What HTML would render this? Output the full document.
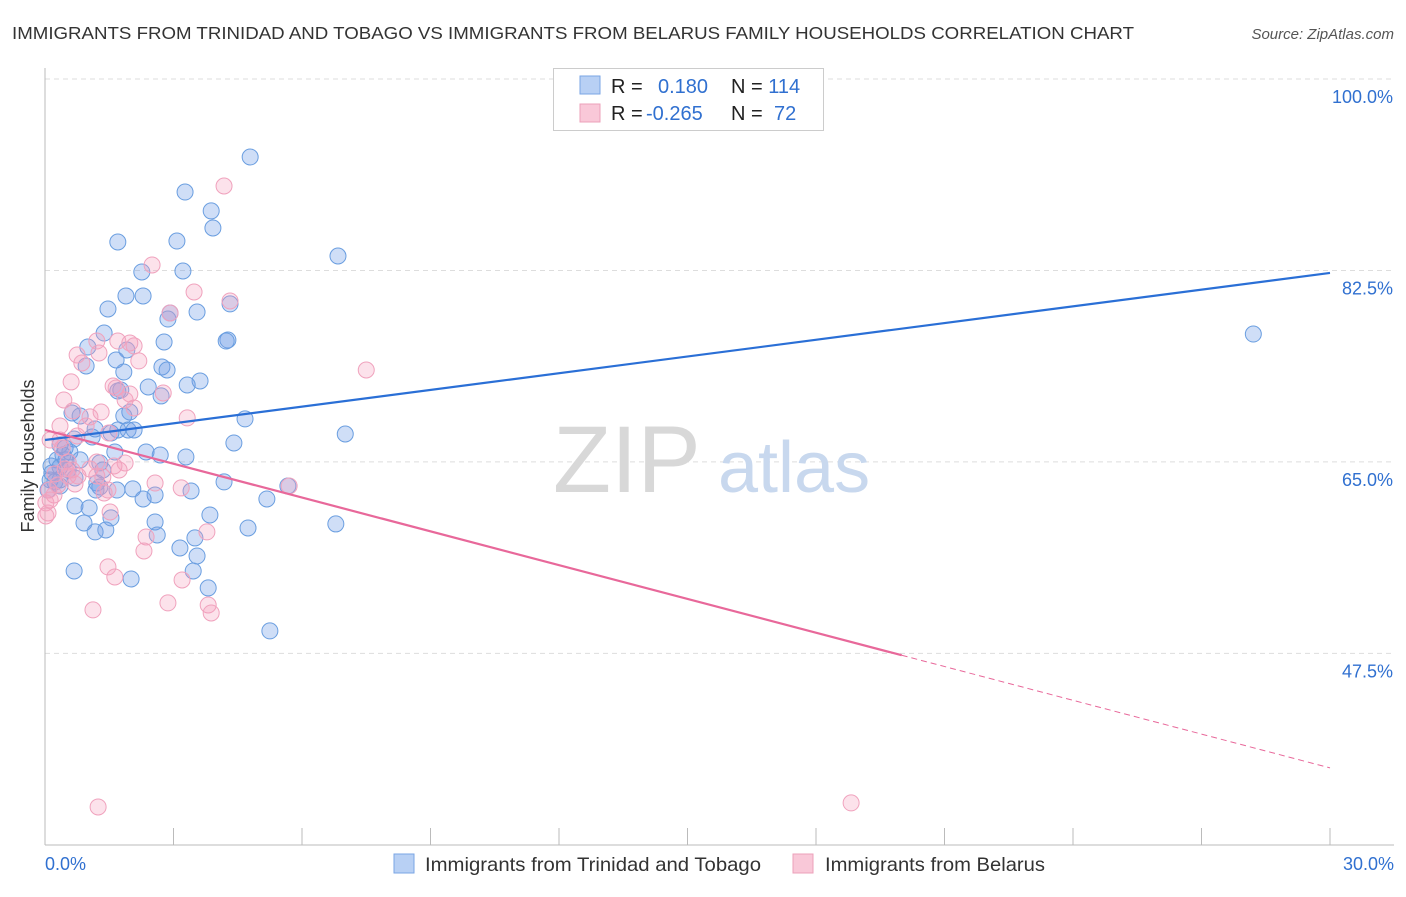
<!DOCTYPE html>
<html><head><meta charset="utf-8"><style>
body{margin:0;background:#fff;font-family:"Liberation Sans",sans-serif;}
svg text{font-family:"Liberation Sans",sans-serif;}
</style></head><body>
<svg id="chart" width="1406" height="892" xmlns="http://www.w3.org/2000/svg">
<text x="12" y="39" font-size="17.5" fill="#333" textLength="1122" lengthAdjust="spacingAndGlyphs">IMMIGRANTS FROM TRINIDAD AND TOBAGO VS IMMIGRANTS FROM BELARUS FAMILY HOUSEHOLDS CORRELATION CHART</text>
<text x="1394" y="39" font-size="15" fill="#555" font-style="italic" text-anchor="end">Source: ZipAtlas.com</text>
<g id="grid"></g>
<g id="watermark">
<text x="553" y="492" font-size="95" fill="#d8d8d8" font-family="Liberation Serif">ZIP</text>
<text x="718" y="492" font-size="72" fill="#c8d8ee">atlas</text>
</g>
<g id="axes"></g>
<g id="points"></g>
<g id="trends"></g>
<text transform="translate(34,456) rotate(-90)" font-size="18" fill="#333" text-anchor="middle">Family Households</text>
<g>
<rect x="553.5" y="68.5" width="270" height="62" fill="#fff" stroke="#ccc"/>
<rect x="580" y="76" width="20" height="18" fill="#b8d0f4" stroke="#7aa6e4"/>
<rect x="580" y="104" width="20" height="18" fill="#f9c8d8" stroke="#eca0ba"/>
<text x="611" y="93" font-size="20" fill="#222">R = <tspan fill="#3070d0" x="658">0.180</tspan></text>
<text x="731" y="93" font-size="20" fill="#222">N = <tspan fill="#3070d0">114</tspan></text>
<text x="611" y="120" font-size="20" fill="#222">R = <tspan fill="#3070d0" x="646">-0.265</tspan></text>
<text x="731" y="120" font-size="20" fill="#222">N = <tspan fill="#3070d0" x="774">72</tspan></text>
</g>
<g>
<rect x="394" y="854" width="20" height="19" fill="#b8d0f4" stroke="#7aa6e4"/>
<text x="425" y="871" font-size="19.5" fill="#333" textLength="336" lengthAdjust="spacingAndGlyphs">Immigrants from Trinidad and Tobago</text>
<rect x="793" y="854" width="20" height="19" fill="#f9c8d8" stroke="#eca0ba"/>
<text x="825" y="871" font-size="19.5" fill="#333" textLength="220" lengthAdjust="spacingAndGlyphs">Immigrants from Belarus</text>
</g>
</svg>
<script>
const blueX=[4.79,3.27,3.88,3.92,3.08,1.70,6.84,2.26,3.22,1.89,2.29,1.47,2.92,2.87,3.55,4.32,1.38,4.27,4.23,2.78,1.00,1.91,1.66,0.96,2.73,2.85,1.84,3.62,3.32,2.41,1.77,1.70,2.71,1.98,1.84,4.67,0.63,0.82,1.17,1.70,1.94,2.08,1.54,7.01,1.10,0.68,4.41,0.35,0.47,0.58,2.36,2.69,3.29,0.28,0.49,0.82,1.28,1.63,0.14,0.35,0.54,1.35,0.12,0.23,0.35,1.21,4.18,1.28,1.68,2.05,3.41,2.57,2.29,5.18,5.67,0.70,1.03,3.85,1.54,2.57,6.79,0.91,4.74,1.17,1.42,2.62,3.50,3.15,3.55,0.68,2.01,3.46,3.81,5.25,28.21,0.35,0.07,0.16,0.42,0.70,1.19];
const blueY=[92.87,89.67,87.94,86.38,85.19,85.10,83.82,82.36,82.45,80.17,80.17,78.98,78.61,78.06,78.70,79.44,76.78,76.14,76.05,75.96,75.50,75.23,74.32,73.77,73.68,73.40,73.22,72.40,72.03,71.85,71.57,71.48,71.03,69.56,69.20,68.93,69.47,69.20,68.01,67.92,67.92,67.92,67.64,67.55,67.28,67.09,66.73,66.55,66.27,65.91,65.91,65.63,65.45,65.18,65.18,65.18,64.91,65.91,64.63,64.54,64.26,64.26,63.35,63.17,62.80,63.07,63.17,62.71,62.43,62.53,62.34,61.98,61.61,61.61,62.80,60.97,60.79,60.15,59.88,59.51,59.33,59.42,58.96,58.60,58.78,58.32,58.05,57.13,56.40,55.03,54.30,55.03,53.48,49.55,76.69,63.35,62.43,63.99,65.63,63.53,62.43];
const pinkX=[4.18,2.50,3.48,4.32,2.92,1.21,1.70,1.98,0.75,2.08,1.26,0.86,2.19,7.50,0.61,1.59,1.66,1.87,1.98,2.08,2.76,0.44,1.31,0.65,1.05,0.35,0.96,0.75,1.49,0.12,3.32,0.40,1.61,1.21,1.87,1.73,1.05,0.47,0.23,0.54,0.77,1.35,0.09,0.21,0.70,0.02,0.07,0.02,1.47,1.38,5.70,3.18,2.57,1.21,1.52,3.78,2.36,2.31,1.47,1.63,3.20,2.87,1.12,3.81,3.88,1.24,18.82,0.12,0.30,0.54,0.35,0.63];
const pinkY=[90.22,83.00,80.53,79.71,78.61,76.05,76.05,75.87,74.77,75.60,74.96,74.04,74.23,73.40,72.31,71.94,71.76,70.66,71.21,69.93,71.30,70.66,69.56,69.66,69.11,68.28,68.28,67.37,67.64,67.00,69.02,66.27,64.63,64.99,64.90,64.26,64.35,64.35,63.90,63.71,63.71,63.62,62.43,61.98,62.98,61.25,60.33,60.06,62.43,62.16,62.80,62.62,63.07,63.71,60.42,58.60,58.14,56.86,55.40,54.48,54.21,52.11,51.47,51.92,51.19,33.46,33.83,61.52,62.89,64.99,67.00,64.26];
const yTicks=[100,82.5,65,47.5];
const yTickLabels=["100.0%","82.5%","65.0%","47.5%"];
const blueTrend=[67.0,82.27];
const pinkTrend=[67.92,37.03];
const pinkSolidEnd=20;

const NS="http://www.w3.org/2000/svg";
const X0=45,X1=1330,YB=845;
function sx(v){return X0+v/30*(X1-X0);}
function sy(v){return 79+(100-v)*10.94;}
function mk(tag,attrs,parent){const e=document.createElementNS(NS,tag);for(const k in attrs)e.setAttribute(k,attrs[k]);parent.appendChild(e);return e;}
const grid=document.getElementById('grid'),axes=document.getElementById('axes'),pts=document.getElementById('points'),tr=document.getElementById('trends');
yTicks.forEach((t,i)=>{
  const l=mk('line',{x1:X0,x2:1394,y1:sy(t),y2:sy(t),stroke:'#ddd','stroke-dasharray':'5,4'},grid);
  
  
  const tx=mk('text',{x:1393,y:sy(t)+24,'font-size':18,fill:'#3070d0','text-anchor':'end'},axes);
  tx.textContent=yTickLabels[i];
  
  
});
let a=mk('line',{x1:X0,x2:X0,y1:68,y2:YB,stroke:'#bbb'},axes);


a=mk('line',{x1:X0,x2:1394,y1:YB,y2:YB,stroke:'#bbb'},axes);


for(let i=0;i<=10;i++){
  const t=mk('line',{x1:sx(i*3),x2:sx(i*3),y1:828,y2:YB,stroke:'#bbb'},axes);
  
  
}
let xl=mk('text',{x:45,y:870,'font-size':18,fill:'#3070d0'},axes);xl.textContent='0.0%';


xl=mk('text',{x:1394,y:870,'font-size':18,fill:'#3070d0','text-anchor':'end'},axes);xl.textContent='30.0%';


blueX.forEach((v,i)=>{
  const c=mk('circle',{cx:sx(v),cy:sy(blueY[i]),r:8,fill:'rgba(110,155,230,0.33)',stroke:'#6a9ee0','stroke-width':1},pts);
  
  
});
pinkX.forEach((v,i)=>{
  const c=mk('circle',{cx:sx(v),cy:sy(pinkY[i]),r:8,fill:'rgba(245,160,190,0.3)',stroke:'#f0a2bd','stroke-width':1},pts);
  
  
});
let ln=mk('line',{x1:sx(0),y1:sy(blueTrend[0]),x2:sx(30),y2:sy(blueTrend[1]),stroke:'#2a6fd6','stroke-width':2.2},tr);


const pAt=x=>pinkTrend[0]+(pinkTrend[1]-pinkTrend[0])*x/30;
ln=mk('line',{x1:sx(0),y1:sy(pinkTrend[0]),x2:sx(pinkSolidEnd),y2:sy(pAt(pinkSolidEnd)),stroke:'#e8689a','stroke-width':2.2},tr);


ln=mk('line',{x1:sx(pinkSolidEnd),y1:sy(pAt(pinkSolidEnd)),x2:sx(30),y2:sy(pinkTrend[1]),stroke:'#e8689a','stroke-width':1,'stroke-dasharray':'6,4'},tr);


</script>
</body></html>
